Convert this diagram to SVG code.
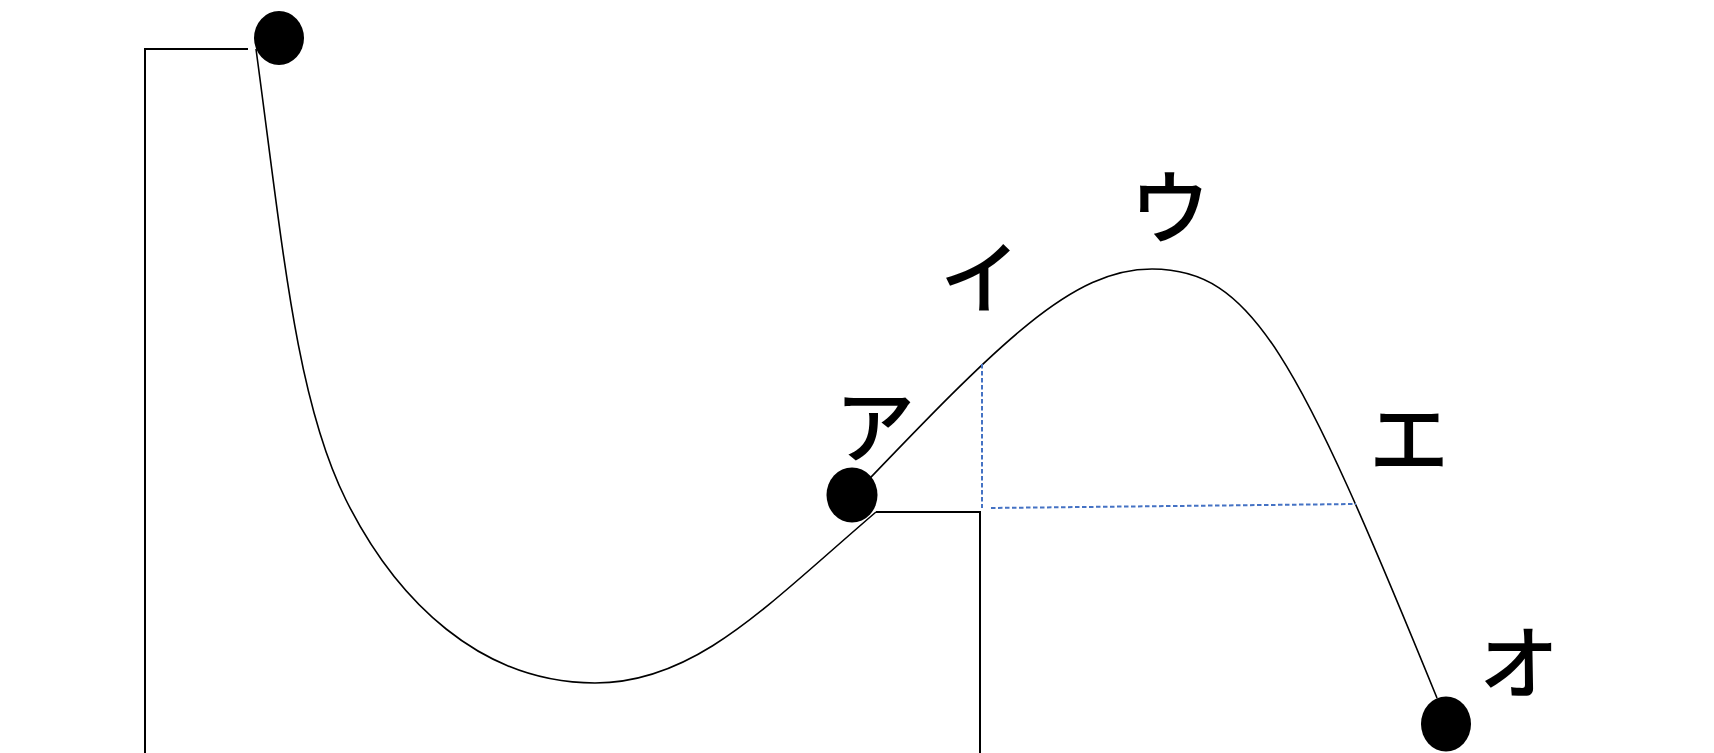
<svg xmlns="http://www.w3.org/2000/svg" width="1714" height="753" viewBox="0 0 1714 753">
<style>
.line{fill:none;stroke:#000;stroke-width:2}
.curve{fill:none;stroke:#000;stroke-width:1.6}
.dash{fill:none;stroke:#4472C4;stroke-width:2;stroke-dasharray:4.5 2.5}
.ball{fill:#000}
.lbl{font-family:"Noto Sans CJK JP","Noto Sans",sans-serif;font-size:80px;font-weight:500;fill:#000;text-anchor:middle}
</style>
<rect width="1714" height="753" fill="#fff"/>
<g id="connectors">
<path class="line" d="M248,49 H145 V753"/>
<path class="curve" d="M256,49 C283,249 296,400 346,500 C396,600 480,683 595,683 C696,683 766,606 876,512"/>
<path class="line" d="M876,512 H980 V753"/>
<path class="curve" d="M852,497 C1002,340 1072,269 1152,269 C1252,269 1297,355 1437,698"/>
<path class="dash" d="M982,364 V508"/>
<path class="dash" d="M991,508 L1356,504"/>
</g>
<g id="ball-top"><ellipse class="ball" cx="279" cy="38" rx="25" ry="27"/></g>
<g id="ball-a"><ellipse class="ball" cx="852" cy="495" rx="25.5" ry="27.5"/></g>
<g id="ball-o"><ellipse class="ball" cx="1446" cy="724" rx="25" ry="27.5"/></g>
<g id="label-a"><text class="lbl" x="875" y="456">ア</text></g>
<g id="label-i"><text class="lbl" x="980" y="307">イ</text></g>
<g id="label-u"><text class="lbl" x="1170" y="237">ウ</text></g>
<g id="label-e"><text class="lbl" x="1409" y="468">エ</text></g>
<g id="label-o"><text class="lbl" x="1519" y="692">オ</text></g>
</svg>
